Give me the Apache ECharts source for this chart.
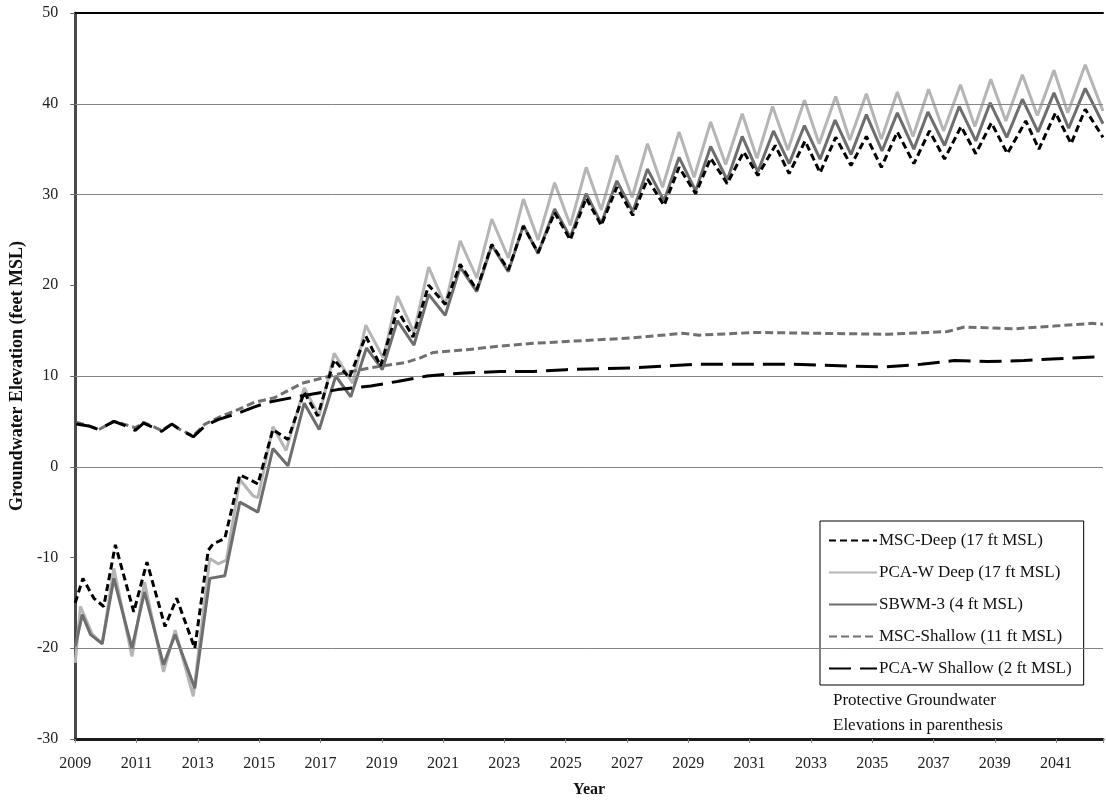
<!DOCTYPE html>
<html>
<head>
<meta charset="utf-8">
<script src="https://cdn.jsdelivr.net/npm/echarts@6/dist/echarts.min.js"></script>
<style>
  html, body { margin: 0; padding: 0; width: 100%; height: 100%; overflow: hidden; background: #fff; }
  #chart { width: 100%; height: 100%; }
</style>
</head>
<body>
<div id="chart"></div>
<script>
// ---- Data (year, groundwater elevation ft MSL) ----
const seriesNames = ['MSC-Deep (17 ft MSL)', 'PCA-W Deep (17 ft MSL)', 'SBWM-3 (4 ft MSL)', 'MSC-Shallow (11 ft MSL)', 'PCA-W Shallow (2 ft MSL)'];
const xTickYears = [2009, 2011, 2013, 2015, 2017, 2019, 2021, 2023, 2025, 2027, 2029, 2031, 2033, 2035, 2037, 2039, 2041];
const gridValues = [40, 30, 10, 0, -20];

const mscDeep = [
  [2009.00,-15.0],[2009.25,-12.3],[2009.61,-14.5],[2009.93,-15.4],[2010.31,-8.6],[2010.91,-16.0],
  [2011.34,-10.5],[2011.93,-17.6],[2012.31,-14.5],[2012.90,-20.0],[2013.34,-9.2],[2013.50,-8.5],
  [2013.88,-7.9],[2014.37,-0.9],[2014.69,-1.4],[2014.96,-1.9],[2015.45,4.1],[2015.94,3.0],
  [2016.47,8.2],[2016.91,5.6],[2017.45,11.8],[2017.94,9.8],[2018.48,14.4],[2018.96,11.1],
  [2019.51,17.3],[2020.02,14.3],[2020.53,20.0],[2021.07,17.9],[2021.56,22.3],[2022.10,19.5],
  [2022.59,24.5],[2023.13,21.7],[2023.62,26.5],[2024.10,23.6],[2024.64,28.0],[2025.15,25.0],
  [2025.67,29.6],[2026.16,26.6],[2026.67,30.8],[2027.19,27.7],[2027.67,31.7],[2028.21,28.8],
  [2028.70,33.0],[2029.24,30.1],[2029.73,34.0],[2030.27,31.2],[2030.81,34.7],[2031.27,32.1],
  [2031.84,35.4],[2032.29,32.3],[2032.81,35.9],[2033.30,32.4],[2033.81,36.3],[2034.31,33.2],
  [2034.81,36.4],[2035.30,33.0],[2035.82,36.9],[2036.36,33.4],[2036.87,37.0],[2037.36,33.9],
  [2037.90,37.5],[2038.38,34.5],[2038.89,37.9],[2039.41,34.5],[2040.01,38.1],[2040.44,35.0],
  [2040.98,39.0],[2041.49,35.6],[2041.95,39.4],[2042.53,36.3]
];

const pcawDeep = [
  [2009.00,-21.6],[2009.17,-15.4],[2009.55,-18.4],[2009.88,-19.5],[2010.26,-11.2],[2010.85,-20.9],
  [2011.26,-12.7],[2011.88,-22.6],[2012.26,-18.0],[2012.85,-25.3],[2013.39,-10.1],[2013.66,-10.7],
  [2013.93,-10.3],[2014.37,-1.4],[2014.80,-3.2],[2014.96,-3.4],[2015.45,4.4],[2015.88,1.8],
  [2016.47,8.7],[2016.96,5.6],[2017.45,12.5],[2018.05,9.2],[2018.48,15.6],[2019.05,12.0],
  [2019.51,18.8],[2020.05,14.8],[2020.53,22.0],[2021.07,17.8],[2021.56,24.9],[2022.10,20.8],
  [2022.59,27.3],[2023.13,23.0],[2023.62,29.5],[2024.10,25.0],[2024.64,31.3],[2025.15,26.6],
  [2025.67,33.0],[2026.16,28.3],[2026.67,34.3],[2027.17,29.7],[2027.67,35.6],[2028.16,30.8],
  [2028.70,36.9],[2029.19,31.9],[2029.73,38.0],[2030.22,33.3],[2030.76,38.9],[2031.24,34.0],
  [2031.75,39.7],[2032.25,34.9],[2032.79,40.4],[2033.27,35.6],[2033.81,40.8],[2034.27,36.0],
  [2034.81,41.1],[2035.30,36.1],[2035.82,41.3],[2036.33,36.4],[2036.84,41.6],[2037.33,37.0],
  [2037.88,42.1],[2038.35,37.5],[2038.87,42.7],[2039.36,38.1],[2039.90,43.2],[2040.39,38.7],
  [2040.93,43.7],[2041.38,39.0],[2041.95,44.3],[2042.53,39.2]
];

const sbwm3 = [
  [2009.00,-19.8],[2009.23,-16.3],[2009.50,-18.5],[2009.88,-19.5],[2010.26,-12.3],[2010.85,-20.0],
  [2011.26,-13.8],[2011.88,-21.8],[2012.26,-18.5],[2012.90,-24.4],[2013.39,-12.3],[2013.88,-12.0],
  [2014.37,-3.9],[2014.96,-5.0],[2015.45,2.0],[2015.94,0.1],[2016.47,7.0],[2016.96,4.1],
  [2017.50,10.0],[2017.99,7.7],[2018.50,13.1],[2019.02,10.7],[2019.51,16.1],[2020.05,13.4],
  [2020.53,19.0],[2021.07,16.7],[2021.56,22.0],[2022.10,19.3],[2022.59,24.4],[2023.13,21.5],
  [2023.62,26.6],[2024.10,23.5],[2024.64,28.4],[2025.15,25.3],[2025.67,30.1],[2026.16,26.8],
  [2026.67,31.5],[2027.19,28.1],[2027.67,32.8],[2028.21,29.3],[2028.70,34.1],[2029.24,30.4],
  [2029.73,35.3],[2030.27,31.6],[2030.76,36.4],[2031.27,32.5],[2031.78,37.0],[2032.29,33.4],
  [2032.79,37.6],[2033.30,33.9],[2033.79,38.2],[2034.31,34.4],[2034.81,38.8],[2035.32,34.8],
  [2035.82,39.0],[2036.36,35.0],[2036.82,39.1],[2037.36,35.4],[2037.84,39.7],[2038.38,35.9],
  [2038.85,40.1],[2039.39,36.3],[2039.90,40.5],[2040.41,36.9],[2040.93,41.2],[2041.41,37.3],
  [2041.95,41.7],[2042.53,37.8]
];

const mscShallow = [
  [2009.03,4.9],[2009.44,4.5],[2009.77,4.1],[2010.26,5.0],[2010.58,4.7],[2010.96,4.3],
  [2011.23,4.9],[2011.82,4.0],[2012.15,4.7],[2012.42,4.1],[2012.85,3.4],[2013.23,4.7],
  [2013.66,5.4],[2014.31,6.3],[2014.85,7.1],[2015.50,7.6],[2016.40,9.2],[2017.56,10.2],
  [2018.64,10.9],[2019.80,11.5],[2020.26,12.0],[2020.69,12.6],[2021.78,12.9],[2022.86,13.3],
  [2023.94,13.6],[2025.02,13.8],[2026.10,14.0],[2027.19,14.2],[2027.83,14.4],[2028.81,14.7],
  [2029.35,14.5],[2031.19,14.8],[2033.35,14.7],[2035.52,14.6],[2037.46,14.9],[2038.01,15.4],
  [2039.63,15.2],[2040.93,15.5],[2042.17,15.8],[2042.53,15.7]
];

const pcawShallow = [
  [2009.03,4.7],[2009.44,4.5],[2009.77,4.1],[2010.26,5.0],[2010.58,4.6],[2010.96,4.0],
  [2011.23,4.8],[2011.82,3.9],[2012.15,4.7],[2012.42,4.1],[2012.85,3.3],[2013.23,4.5],
  [2013.66,5.2],[2014.31,5.9],[2014.85,6.6],[2015.29,7.1],[2016.37,7.8],[2017.56,8.5],
  [2018.64,8.9],[2019.51,9.4],[2020.48,10.0],[2021.56,10.3],[2022.86,10.5],[2023.94,10.5],
  [2025.02,10.7],[2026.10,10.8],[2027.19,10.9],[2028.27,11.1],[2029.24,11.3],[2030.65,11.3],
  [2032.27,11.3],[2034.22,11.1],[2035.41,11.0],[2036.60,11.3],[2037.68,11.7],[2038.76,11.6],
  [2039.95,11.7],[2041.04,11.9],[2042.23,12.1],[2042.53,12.1]
];

// ---- Chart ----
const serif = '"Liberation Serif", "DejaVu Serif", serif';
const chart = echarts.init(document.getElementById('chart'), null, { renderer: 'canvas' });

function lineSeries(name, data, color, width, dash, z) {
  return {
    name: name,
    type: 'line',
    data: data,
    symbol: 'circle',
    showSymbol: false,
    smooth: false,
    z: z,
    lineStyle: { color: color, width: width, type: dash || 'solid', cap: 'butt' },
    itemStyle: { color: color },
    emphasis: { disabled: true },
    silent: true
  };
}

const s0 = lineSeries(seriesNames[0], mscDeep, '#000000', 3, [7, 4], 6);
const s1 = lineSeries(seriesNames[1], pcawDeep, '#b5b5b5', 3, null, 3);
const s2 = lineSeries(seriesNames[2], sbwm3, '#6e6e6e', 3, null, 4);
const s3 = lineSeries(seriesNames[3], mscShallow, '#707070', 3, [8, 4], 5);
const s4 = lineSeries(seriesNames[4], pcawShallow, '#000000', 3, [22, 9], 6);

// selective gridlines (as in the original figure)
s1.markLine = {
  silent: true,
  symbol: ['none', 'none'],
  label: { show: false },
  lineStyle: { color: '#858585', width: 1, type: 'solid' },
  emphasis: { disabled: true },
  data: gridValues.map(v => ({ yAxis: v }))
};

const option = {
  animation: false,
  backgroundColor: '#ffffff',
  grid: { left: 73, right: 0, top: 13, bottom: 61, containLabel: false },
  xAxis: [{
    type: 'value',
    position: 'bottom',
    min: 2009,
    max: 2042.53,
    interval: 2,
    name: 'Year',
    nameLocation: 'middle',
    nameGap: 43,
    nameTextStyle: { fontFamily: serif, fontWeight: 'bold', fontSize: 16, color: '#111' },
    axisLine: { show: true, onZero: false, lineStyle: { color: '#1a1a1a', width: 3 } },
    axisTick: { show: true, length: 4, lineStyle: { color: '#888', width: 1 } },
    axisLabel: {
      fontFamily: serif, fontSize: 16, color: '#222', margin: 17,
      formatter: v => (xTickYears.indexOf(Math.round(v)) >= 0 ? String(Math.round(v)) : '')
    },
    splitLine: { show: false }
  }, {
    type: 'value',
    position: 'top',
    min: 2009,
    max: 2042.53,
    interval: 2,
    axisLine: { show: true, onZero: false, lineStyle: { color: '#000', width: 2 } },
    axisTick: { show: false },
    axisLabel: { show: false },
    splitLine: { show: false }
  }],
  yAxis: {
    type: 'value',
    min: -30,
    max: 50,
    interval: 10,
    name: 'Groundwater Elevation (feet MSL)',
    nameLocation: 'middle',
    nameGap: 47,
    nameTextStyle: { fontFamily: serif, fontWeight: 'bold', fontSize: 18, color: '#111' },
    axisLine: { show: true, onZero: false, lineStyle: { color: '#4a4a4a', width: 3 } },
    axisTick: { show: true, length: 5, lineStyle: { color: '#666', width: 1 } },
    axisLabel: { fontFamily: serif, fontSize: 16, color: '#222', margin: 17 },
    splitLine: { show: false }
  },
  legend: {
    show: true,
    orient: 'vertical',
    left: 820,
    top: 521,
    width: 266,
    padding: [11, 12, 8, 8],
    itemGap: 15,
    itemWidth: 48,
    itemHeight: 14,
    backgroundColor: '#fff',
    borderColor: '#000',
    borderWidth: 1,
    selectedMode: false,
    itemStyle: { opacity: 0 },
    textStyle: { fontFamily: serif, fontSize: 17, color: '#111', padding: [0, 0, 0, -3] },
    data: seriesNames
  },
  graphic: [
    {
      type: 'text',
      left: 833, top: 688,
      style: {
        text: 'Protective Groundwater\nElevations in parenthesis',
        font: '17px ' + serif,
        lineHeight: 25,
        fill: '#111'
      }
    }
  ],
  series: [s0, s1, s2, s3, s4]
};

chart.setOption(option);
window.addEventListener('resize', () => chart.resize());
</script>
</body>
</html>
